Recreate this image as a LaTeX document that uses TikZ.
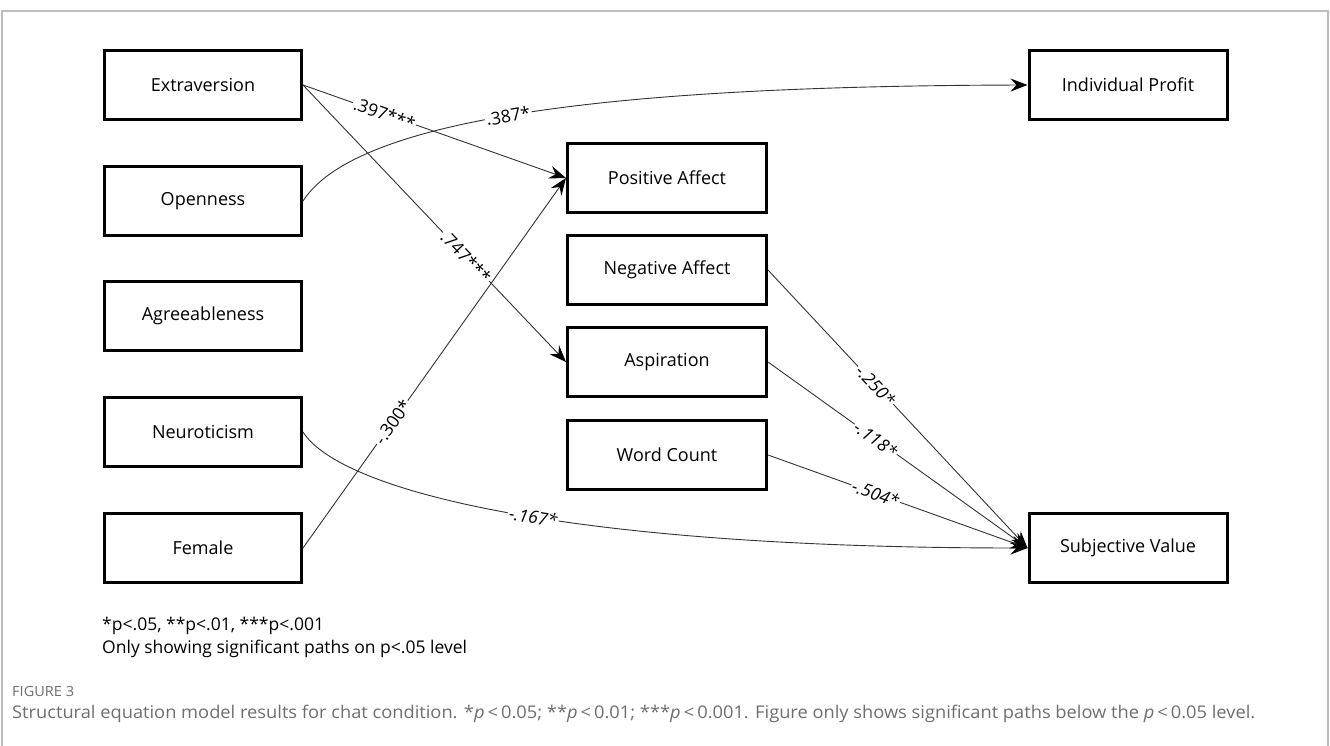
\documentclass[tikz,border=0pt]{standalone}
\usepackage{fontspec}
\usepackage{graphicx}
\setmainfont{Open Sans}
\usetikzlibrary{arrows.meta}
\definecolor{capgray}{HTML}{6E6E6E}
\definecolor{framegray}{HTML}{BDBDBD}
\begin{document}
\begin{tikzpicture}[x=1pt,y=-1pt,
  box/.style={draw=black, line width=3pt, minimum width=197pt, minimum height=69pt, inner sep=0pt, fill=white, font=\fontsize{18}{21}\selectfont},
  conn/.style={draw=black!80, line width=0.9pt, -{Stealth[length=17pt,width=13pt,inset=6pt,color=black]}},
  lab/.style={sloped, fill=white, inner sep=1.5pt, font=\fontsize{17.5}{20}\selectfont},
  ilab/.style={lab, font=\fontsize{17.5}{20}\selectfont\itshape},
  note/.style={anchor=west, inner sep=0pt, font=\fontsize{17.5}{20}\selectfont}]
\useasboundingbox (0,0) rectangle (1330,746);
\draw[framegray, line width=1.2pt] (2,760) -- (2,11) -- (1328,11) -- (1328,760);

% left column
\node[box] (ext) at (203,85) {Extraversion};
\node[box] (open) at (203,201) {Openness};
\node[box] (agree) at (203,316) {Agreeableness};
\node[box] (neuro) at (203,432) {Neuroticism};
\node[box] (female) at (203,548) {Female};
% middle column
\node[box, minimum width=199pt] (posaff) at (667,178) {Positive Affect};
\node[box, minimum width=199pt] (negaff) at (667,270) {Negative Affect};
\node[box, minimum width=199pt] (asp) at (667,362) {Aspiration};
\node[box, minimum width=199pt] (wc) at (667,455) {Word Count};
% right column
\node[box, minimum width=198pt] (ip) at (1128,85) {Individual Profit};
\node[box, minimum width=198pt] (sv) at (1128,548) {Subjective Value};

% connectors
\draw[conn] (ext.east) -- node[lab, pos=0.31] {.397***} (posaff.west);
\draw[conn] (ext.east) -- node[lab, pos=0.62] {.747***} (asp.west);
\draw[conn] (open.east) .. controls (360,112) and (650,86) .. node[lab, pos=0.45] {.387*} (ip.west);
\draw[conn] (female.east) -- node[lab, pos=0.34] {-.300*} (posaff.west);
\draw[conn] (neuro.east) .. controls (340,490) and (560,548) .. node[ilab, pos=0.54] {-.167*} (sv.west);
\draw[conn] (negaff.east) -- node[ilab, pos=0.415] {-.250*} (sv.west);
\draw[conn] (asp.east) -- node[ilab, pos=0.415] {-.118*} (sv.west);
\draw[conn] (wc.east) -- node[ilab, pos=0.415] {-.504*} (sv.west);

% notes
\node[note] (n1) at (102,626) {*p<.05, **p<.01, ***p<.001};
\node[note] (n2) at (102,649) {Only showing significant paths on p<.05 level};

% caption
\node[anchor=west, inner sep=0pt, text=capgray, font=\fontsize{14}{17}\selectfont] (figlab) at (12,691) {\resizebox{62pt}{\height}{FIGURE 3}};
\node[anchor=west, inner sep=0pt, text=capgray, font=\fontsize{17.5}{20}\selectfont] (cap) at (12,714) {\resizebox{1243pt}{\height}{Structural equation model results for chat condition. *\textit{p}\,<\,0.05; **\textit{p}\,<\,0.01; ***\textit{p}\,<\,0.001. Figure only shows significant paths below the \textit{p}\,<\,0.05 level.}};
\end{tikzpicture}
\end{document}
